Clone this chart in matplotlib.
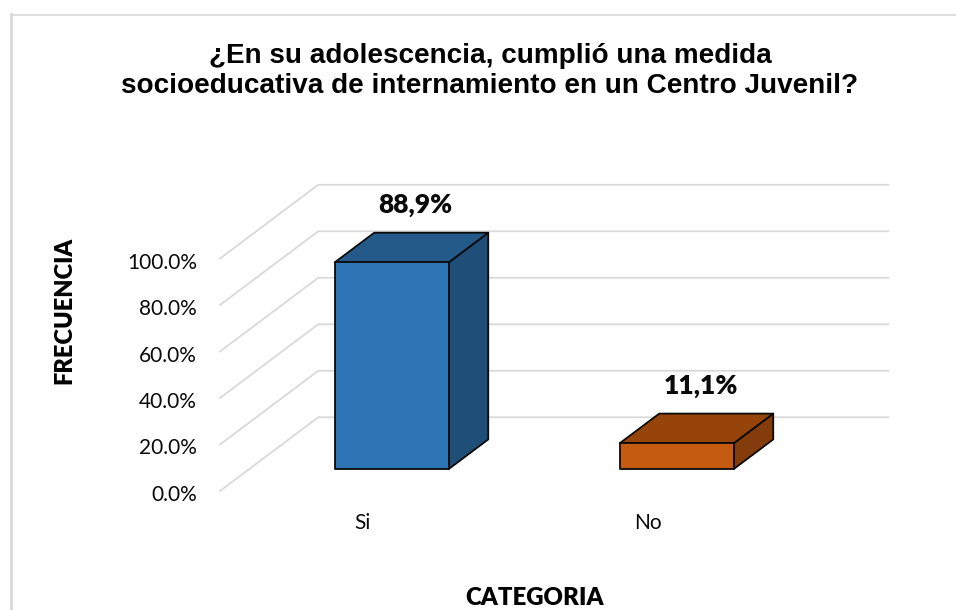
import matplotlib.pyplot as plt
from matplotlib.patches import Polygon
from matplotlib.lines import Line2D
from matplotlib.transforms import ScaledTranslation

W, H = 956, 610

categories = ['Si', 'No']
values = [88.9, 11.1]
value_labels = ['88,9%', '11,1%']
y_ticks = [0, 20, 40, 60, 80, 100]
y_tick_labels = ['0.0%', '20.0%', '40.0%', '60.0%', '80.0%', '100.0%']

front_colors = ['#2E75B6', '#C55A11']
top_colors = ['#245A8A', '#964409']
side_colors = ['#1F4E79', '#843C0C']

# oblique depth of the fake 3d box, in data units
DEPTH_X = 0.3445
DEPTH_Y = 31.7
BAR_W = 0.40

def project(x, y, d):
    return x + DEPTH_X * d, y + DEPTH_Y * d

def box(ax, x, val, front, top, side):
    x0, x1 = x - BAR_W / 2, x + BAR_W / 2
    d0, d1 = 0.3, 0.7
    faces = [
        ([(x1, 0, d0), (x1, 0, d1), (x1, val, d1), (x1, val, d0)], side),
        ([(x0, val, d0), (x0, val, d1), (x1, val, d1), (x1, val, d0)], top),
        ([(x0, 0, d0), (x1, 0, d0), (x1, val, d0), (x0, val, d0)], front),
    ]
    for pts, color in faces:
        ax.add_patch(Polygon([project(*p) for p in pts], closed=True, facecolor=color,
                             edgecolor='#0A0A0A', linewidth=1.3, zorder=3,
                             joinstyle='round', clip_on=False))

plt.rcParams['font.family'] = ['Lato', 'DejaVu Sans']
fig = plt.figure(figsize=(W / 100, H / 100), dpi=100)

# outer chart border, left side is drawn thicker in the original
fig.add_artist(Line2D([10.5 / W, 1], [1 - 14.5 / H, 1 - 14.5 / H], color='#D9D9D9', linewidth=1.2))
fig.add_artist(Line2D([10.5 / W, 10.5 / W], [1 - 14 / H, 0], color='#D9D9D9', linewidth=2.0))

ax = fig.add_axes([220 / W, 1 - 491 / H, 570 / W, 232.5 / H])
ax.set_xlim(-0.5, 1.5)
ax.set_ylim(0, 100)
for s in ax.spines.values():
    s.set_visible(False)
ax.patch.set_visible(False)

# walls
for t in y_ticks:
    xa, ya = project(-0.5, t, 0)
    xb, yb = project(-0.5, t, 1)
    xc, yc = project(1.5, t, 1)
    ax.plot([xa, xb, xc], [ya, yb, yc], color='#D9D9D9', linewidth=1.3, clip_on=False, zorder=1)

for i, cat in enumerate(categories):
    box(ax, i, values[i], front_colors[i], top_colors[i], side_colors[i])
    xt, yt = project(i, values[i], 0.5)
    ax.annotate(value_labels[i], (xt, yt), xytext=(4, 42), textcoords='offset pixels',
                ha='center', va='center', fontsize=19, fontweight=800, color='#0A0A0A',
                annotation_clip=False, zorder=4)

ax.set_yticks(y_ticks)
ax.set_yticklabels(y_tick_labels, fontsize=15)
ax.set_xticks(range(len(categories)))
ax.set_xticklabels(categories, fontsize=15)
ax.tick_params(axis='both', length=0, colors='#0A0A0A')
ax.tick_params(axis='y', pad=16.5)
ax.tick_params(axis='x', pad=16)
# value labels sit a little under their gridline starts
for lab in ax.get_yticklabels():
    lab.set_transform(lab.get_transform() + ScaledTranslation(0, -2 / 100, fig.dpi_scale_trans))

fig.text(490 / W, 1 - 71 / H, '¿En su adolescencia, cumplió una medida\nsocioeducativa de internamiento en un Centro Juvenil?',
         ha='center', va='center', fontsize=20.1, fontweight='bold', family='Liberation Sans',
         linespacing=1.19)
fig.text(64 / W, 1 - 310 / H, 'FRECUENCIA', rotation=90, ha='center', va='center',
         fontsize=17, fontweight=800)
fig.text(535 / W, 1 - 598 / H, 'CATEGORIA', ha='center', va='center',
         fontsize=17.3, fontweight=800)

fig.savefig('out.png', dpi=100)
